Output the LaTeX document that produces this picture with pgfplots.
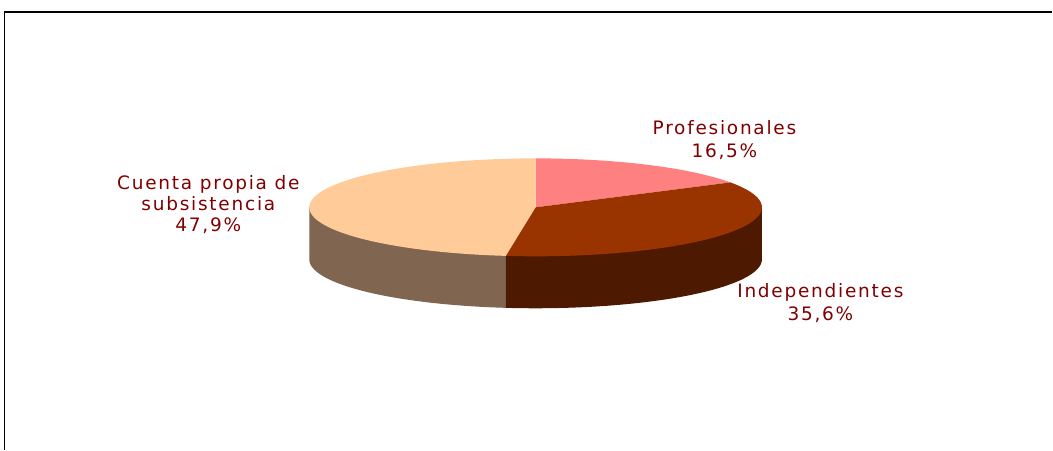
\documentclass[border=0pt]{standalone}
\usepackage{fontspec}
\setmainfont{DejaVu Sans}
\newfontfamily\lab{DejaVu Sans}[LetterSpace=9.5]
\usepackage{pgfplots}
\pgfplotsset{compat=1.18}
\definecolor{cP}{HTML}{FF8080}
\definecolor{cI}{HTML}{993300}
\definecolor{cC}{HTML}{FFCC99}
\definecolor{sI}{HTML}{4D1900}
\definecolor{sC}{HTML}{806650}
\definecolor{txt}{HTML}{800000}
\begin{document}
\begin{tikzpicture}
% pie data (percent)
\def\vP{16.5}\def\vI{35.6}\def\vC{47.9}
% geometry (pixels)
\def\cx{536}\def\cy{207.5}\def\rx{226.5}\def\ry{49}\def\dep{52}
\pgfmathsetmacro\aB{90-3.6*\vP}
\pgfmathsetmacro\aC{\aB-3.6*\vI}
\pgfmathsetmacro\aD{\aC-3.6*\vC}
\pgfmathsetmacro\xC{\cx+\rx*cos(\aC)}
\pgfmathsetmacro\yC{\cy-\ry*sin(\aC)}
\pgfmathsetmacro\xL{\cx-\rx}
\pgfmathsetmacro\xR{\cx+\rx}
\begin{axis}[scale only axis, width=1053pt, height=450pt,
  xmin=0, xmax=1053, ymin=0, ymax=450, y dir=reverse,
  hide axis, clip=false]
\path (0,0) rectangle (1053,450);
% frame
\draw[line width=1.6pt, black] (4.5,450) -- (4.5,12) -- (1053,12);
% side faces
\addplot[draw=none, fill=sC, domain=-180:\aC, samples=100]
  ({\cx+\rx*cos(x)},{\cy+\dep-\ry*sin(x)}) -- (\xC,\yC) -- (\cx,\cy) -- (\xL,\cy) -- cycle;
\addplot[draw=none, fill=sI, domain=\aC:0, samples=100]
  ({\cx+\rx*cos(x)},{\cy+\dep-\ry*sin(x)}) -- (\xR,\cy) -- (\cx,\cy) -- (\xC,\yC) -- cycle;
% top faces
\addplot[draw=none, fill=cP, domain=\aB:90, samples=80]
  ({\cx+\rx*cos(x)},{\cy-\ry*sin(x)}) -- (\cx,\cy) -- cycle;
\addplot[draw=none, fill=cI, domain=\aC:\aB, samples=120]
  ({\cx+\rx*cos(x)},{\cy-\ry*sin(x)}) -- (\cx,\cy) -- cycle;
\addplot[draw=none, fill=cC, domain=\aD:\aC, samples=150]
  ({\cx+\rx*cos(x)},{\cy-\ry*sin(x)}) -- (\cx,\cy) -- cycle;
% labels
\begin{scope}[every node/.style={anchor=base, text=txt, inner sep=0pt, font=\lab\fontsize{18.5}{22}\selectfont}]
\node at (725,135) {Profesionales};
\node at (725,157.5) {16,5\%};
\node at (208.5,189.5) {Cuenta propia de};
\node at (208.5,211) {subsistencia};
\node at (208.5,232) {47,9\%};
\node at (821,298) {Independientes};
\node at (821,320.5) {35,6\%};
\end{scope}
\end{axis}
\end{tikzpicture}
\end{document}
